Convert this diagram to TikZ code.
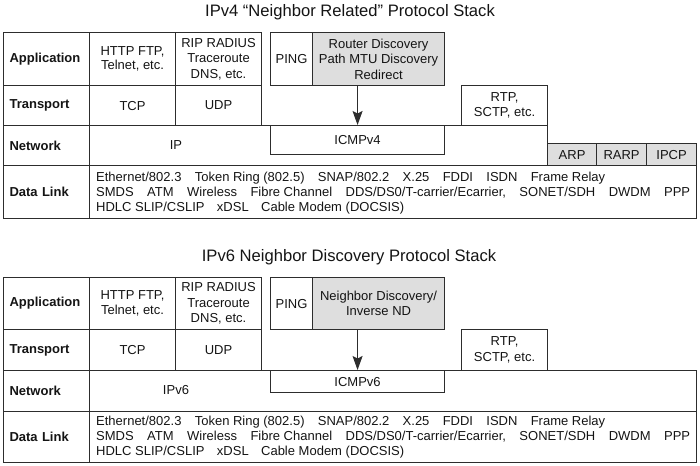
\documentclass[tikz,border=0pt]{standalone}
\usepackage{fontspec}
\setmainfont{Liberation Sans}
\usetikzlibrary{arrows.meta}
\definecolor{boxgray}{RGB}{222,222,222}
\definecolor{linec}{RGB}{45,45,45}
\definecolor{txtc}{RGB}{20,20,20}
\tikzset{
  wh/.style 2 args={minimum width=#1pt, minimum height=#2pt},
  cellb/.style={draw=linec, line width=1.1pt, inner sep=0pt, align=center, anchor=north west,
    font=\fontsize{13pt}{15.5pt}\selectfont, text=txtc},
  lbl/.style={cellb, align=left, text width=74pt, inner xsep=6pt,
    font=\bfseries\fontsize{13pt}{15.5pt}\selectfont},
  shaded/.style={fill=boxgray},
  plain/.style={inner sep=0pt, text=txtc, font=\fontsize{13pt}{15.5pt}\selectfont},
  dltxt/.style={plain, anchor=west, align=left, font=\fontsize{13pt}{15pt}\selectfont},
  ttl/.style={inner sep=0pt, text=txtc, anchor=base, font=\fontsize{16.6pt}{19pt}\selectfont},
  conn/.style={draw=linec, line width=1.1pt, -{Stealth[length=14pt,width=10pt,inset=2.5pt]}},
}
\begin{document}
\begin{tikzpicture}[x=1pt,y=-1pt]
\useasboundingbox (0,0) rectangle (700,465);

% ---------------- IPv4 ----------------
\node[ttl] (t1) at (350,16.7) {IPv4 “Neighbor Related” Protocol Stack};

\node[lbl, wh={86}{53}] (la1) at (3,32) {Application};
\node[cellb, wh={86}{53}, font=\fontsize{13pt}{14.5pt}\selectfont] (http1) at (89,32) {HTTP FTP,\\Telnet, etc.};
\node[cellb, wh={86}{53}] (rip1) at (175,32) {RIP RADIUS\\Traceroute\\DNS, etc.};
\node[cellb, wh={42}{53}] (ping1) at (270,32) {PING};
\node[cellb, shaded, wh={132}{53}] (rd1) at (312,32) {Router Discovery\\Path MTU Discovery\\Redirect};

\node[lbl, wh={86}{40}] (lt1) at (3,85) {Transport};
\node[cellb, wh={86}{40}] (tcp1) at (89,85) {TCP};
\node[cellb, wh={86}{40}] (udp1) at (175,85) {UDP};
\node[cellb, wh={86}{40}] (rtp1) at (461,85) {RTP,\\SCTP, etc.};

\node[lbl, wh={86}{40}] (ln1) at (3,125) {Network};
\node[cellb, wh={458}{40}] (net1) at (89,125) {};
\node[plain] (ip1) at (176,145) {IP};
\node[cellb, wh={174}{29}] (icmp1) at (270,125) {ICMPv4};

\node[cellb, shaded, wh={49}{22}] (arp1) at (547,143) {ARP};
\node[cellb, shaded, wh={50}{22}] (rarp1) at (596,143) {RARP};
\node[cellb, shaded, wh={50}{22}] (ipcp1) at (646,143) {IPCP};

\node[lbl, wh={86}{53}] (ld1) at (3,165) {Data Link};
\node[cellb, wh={607}{53}] (dl1) at (89,165) {};
\node[dltxt] (dlt1) at (96,193) {%
\hbox to 509pt{Ethernet/802.3\hfill Token Ring (802.5)\hfill SNAP/802.2\hfill X.25\hfill FDDI\hfill ISDN\hfill Frame Relay}\\
\hbox to 594pt{SMDS\hfill ATM\hfill Wireless\hfill Fibre Channel\hfill DDS/DS0/T-carrier/Ecarrier,\hfill SONET/SDH\hfill DWDM\hfill PPP}\\
\hbox to 308pt{HDLC SLIP/CSLIP\hfill xDSL\hfill Cable Modem (DOCSIS)}};

\draw[conn] (icmp1.north |- rd1.south) -- (icmp1.north);

% ---------------- IPv6 ----------------
\node[ttl] (t2) at (349,261.7) {IPv6 Neighbor Discovery Protocol Stack};

\node[lbl, wh={86}{52}] (la2) at (3,277) {Application};
\node[cellb, wh={86}{52}, font=\fontsize{13pt}{14.5pt}\selectfont] (http2) at (89,277) {HTTP FTP,\\Telnet, etc.};
\node[cellb, wh={86}{52}] (rip2) at (175,277) {RIP RADIUS\\Traceroute\\DNS, etc.};
\node[cellb, wh={42}{52}] (ping2) at (270,277) {PING};
\node[cellb, shaded, wh={132}{52}] (nd2) at (312,277) {Neighbor Discovery/\\Inverse ND};

\node[lbl, wh={86}{41}] (lt2) at (3,329) {Transport};
\node[cellb, wh={86}{41}] (tcp2) at (89,329) {TCP};
\node[cellb, wh={86}{41}] (udp2) at (175,329) {UDP};
\node[cellb, wh={86}{41}] (rtp2) at (461,329) {RTP,\\SCTP, etc.};

\node[lbl, wh={86}{41}] (ln2) at (3,370) {Network};
\node[cellb, wh={607}{41}] (net2) at (89,370) {};
\node[plain] (ip2) at (176,390.5) {IPv6};
\node[cellb, wh={174}{22}] (icmp2) at (270,370) {ICMPv6};

\node[lbl, wh={86}{51}] (ld2) at (3,411) {Data Link};
\node[cellb, wh={607}{51}] (dl2) at (89,411) {};
\node[dltxt] (dlt2) at (96,437.5) {%
\hbox to 509pt{Ethernet/802.3\hfill Token Ring (802.5)\hfill SNAP/802.2\hfill X.25\hfill FDDI\hfill ISDN\hfill Frame Relay}\\
\hbox to 594pt{SMDS\hfill ATM\hfill Wireless\hfill Fibre Channel\hfill DDS/DS0/T-carrier/Ecarrier,\hfill SONET/SDH\hfill DWDM\hfill PPP}\\
\hbox to 308pt{HDLC SLIP/CSLIP\hfill xDSL\hfill Cable Modem (DOCSIS)}};

\draw[conn] (icmp2.north |- nd2.south) -- (icmp2.north);
\end{tikzpicture}
\end{document}
